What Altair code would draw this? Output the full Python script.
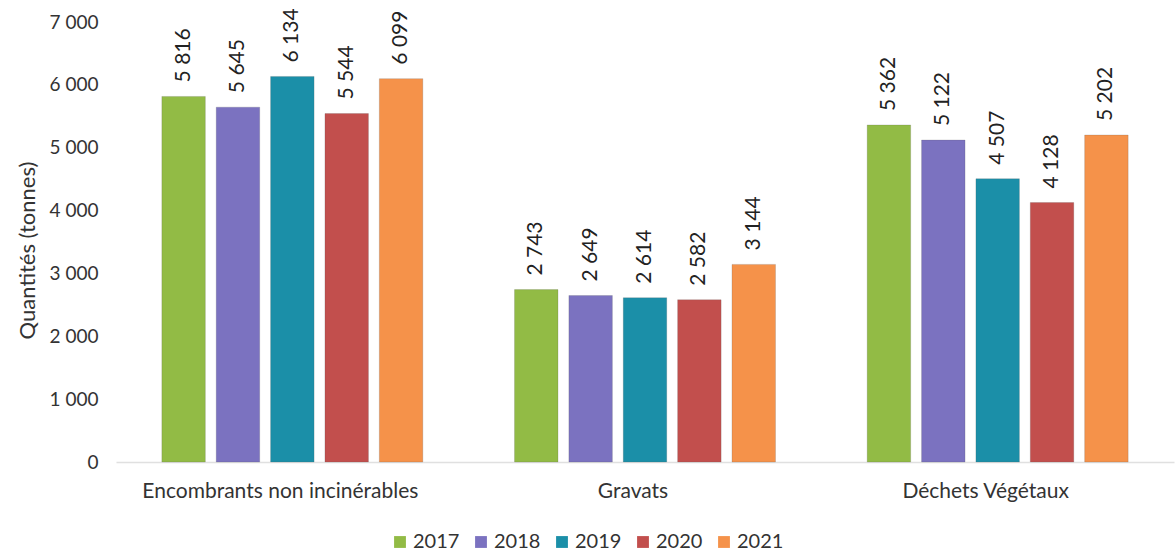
import altair as alt
import pandas as pd

categories = ["Encombrants non incinérables", "Gravats", "Déchets Végétaux"]
years = ["2017", "2018", "2019", "2020", "2021"]
v2017 = [5816, 2743, 5362]
v2018 = [5645, 2649, 5122]
v2019 = [6134, 2614, 4507]
v2020 = [5544, 2582, 4128]
v2021 = [6099, 3144, 5202]
colors = ["#92bb45", "#7b72c0", "#1b8fa8", "#c24f4d", "#f5924a"]

series = [v2017, v2018, v2019, v2020, v2021]
rows = []
for y, vals in zip(years, series):
    for c, v in zip(categories, vals):
        rows.append({"cat": c, "year": y, "value": v,
                     "label": f"{v:,}".replace(",", " ")})
df = pd.DataFrame(rows)

FONT = "Lato"

x = alt.X("cat:N", sort=categories, title=None,
          scale=alt.Scale(paddingInner=0.26, paddingOuter=0.13),
          axis=alt.Axis(labelAngle=0, labelFontSize=21, labelColor="#333333",
                        labelPadding=18, ticks=False, domainColor="#e0e0e0",
                        domainWidth=1.5, labelFont=FONT, labelLimit=0,
                        labelOffset=-12))
xo = alt.XOffset("year:N", sort=years, scale=alt.Scale(paddingInner=0.2, paddingOuter=0.0))
y = alt.Y("value:Q", title="Quantités (tonnes)",
          scale=alt.Scale(domain=[0, 7000], nice=False),
          axis=alt.Axis(values=list(range(0, 7001, 1000)), grid=False, domain=False,
                        ticks=False, labelFontSize=19, labelColor="#333333",
                        labelPadding=18, labelExpr="replace(format(datum.value, ','), ',', ' ')",
                        titleFontSize=22, titleFontWeight="normal", titleColor="#333333",
                        titlePadding=10, labelFont=FONT, titleFont=FONT, titleY=228))

color = alt.Color("year:N", sort=years, scale=alt.Scale(domain=years, range=colors),
                  legend=alt.Legend(title=None, orient="none", direction="horizontal",
                                    legendX=274, legendY=510, symbolType="square",
                                    symbolSize=140, symbolStrokeWidth=0,
                                    labelFontSize=20, labelColor="#333333",
                                    columnPadding=11, labelOffset=3, labelFont=FONT))

bars = alt.Chart(df).mark_bar(stroke="#555555", strokeWidth=0.5, strokeOpacity=0.4).encode(
    x=x, xOffset=xo, y=y, color=color)

text = alt.Chart(df).mark_text(angle=270, align="left", baseline="middle", dx=14,
                               fontSize=21, color="#222222", font=FONT).encode(
    x=alt.X("cat:N", sort=categories), xOffset=xo, y="value:Q", text="label:N")

chart = alt.layer(bars, text).properties(
    width=1058, height=440,
    background="white",
    autosize=alt.AutoSizeParams(type="none"),
    padding={"left": 116, "top": 22, "right": 2, "bottom": 93},
).configure_view(stroke=None, strokeWidth=0)

chart.save("out.html", embed_options={"renderer": "svg", "actions": False})
